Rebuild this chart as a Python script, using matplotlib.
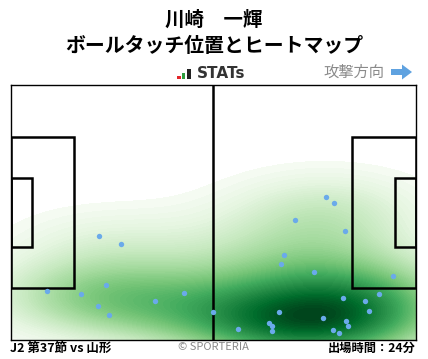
"""Ball touch positions and heatmap for one player (SPORTERIA style)."""

import matplotlib

matplotlib.use("Agg")

import matplotlib.pyplot as plt
import seaborn as sns
from matplotlib.patches import Polygon, Rectangle

plt.rcParams["font.family"] = ["Noto Sans CJK JP", "DejaVu Sans"]

PLAYER = "川崎　一輝"
SUBTITLE = "ボールタッチ位置とヒートマップ"
MATCH_LABEL = "J2 第37節 vs 山形"
MINUTES_LABEL = "出場時間：24分"
CREDIT = "© SPORTERIA"
DIRECTION_LABEL = "攻撃方向"

PITCH_LENGTH = 105.0
PITCH_WIDTH = 68.0

# touch positions in metres (x: own goal -> attacking goal, y: from bottom touchline)
touch_x = [
    22.96, 28.65, 9.52, 18.31, 24.77, 22.70, 25.55, 37.44, 44.94, 52.44,
    81.66, 83.73, 73.65, 86.58, 70.80, 70.03, 78.56, 98.99, 95.37, 86.06,
    91.75, 92.78, 69.51, 80.89, 86.76, 87.35, 66.85, 67.70, 67.62, 59.01,
    83.48, 85.03,
]
touch_y = [
    27.60, 25.47, 12.96, 12.16, 14.56, 8.97, 6.58, 10.30, 12.43, 7.37,
    37.98, 36.39, 31.86, 28.93, 22.54, 20.15, 18.02, 16.96, 12.24, 11.10,
    10.30, 7.65, 7.37, 5.78, 5.14, 3.81, 4.44, 3.81, 2.40, 2.85,
    2.66, 1.78,
]

POINT_COLOR = "#6aaaea"
ARROW_COLOR = "#5fa2e0"


def draw_pitch(ax):
    lw = 1.8
    ax.plot([PITCH_LENGTH / 2, PITCH_LENGTH / 2], [0, PITCH_WIDTH], color="black", lw=lw, zorder=2)
    box_w, box_d = 40.32, 16.5
    goal_w, goal_d = 18.32, 5.5
    cy = PITCH_WIDTH / 2
    for x0, d, w in [
        (0, box_d, box_w),
        (PITCH_LENGTH - box_d, box_d, box_w),
        (0, goal_d, goal_w),
        (PITCH_LENGTH - goal_d, goal_d, goal_w),
    ]:
        ax.add_patch(Rectangle((x0, cy - w / 2), d, w, fill=False, ec="black", lw=lw, zorder=2))
    for spine in ax.spines.values():
        spine.set_linewidth(1.0)
        spine.set_color("black")
        spine.set_zorder(4)


def px_rect(fig, x0, x1, y_top, y_bottom, color):
    # rectangle given in figure pixels (y measured from the top)
    fig.patches.append(
        Rectangle((x0 / 428, 1 - y_bottom / 359), (x1 - x0) / 428, (y_bottom - y_top) / 359,
                  transform=fig.transFigure, color=color, lw=0)
    )


def main():
    fig = plt.figure(figsize=(4.28, 3.59), dpi=100)
    ax = fig.add_axes([10.5 / 428, 19 / 359, 405.5 / 428, 255.5 / 359])

    sns.kdeplot(
        x=touch_x,
        y=touch_y,
        fill=True,
        cmap="Greens",
        levels=80,
        thresh=0.02,
        bw_adjust=1.3,
        clip=((0, PITCH_LENGTH), (0, PITCH_WIDTH)),
        ax=ax,
        zorder=0,
    )
    draw_pitch(ax)
    ax.scatter(touch_x, touch_y, s=15, color=POINT_COLOR, lw=0, zorder=3)

    ax.set_xlim(0, PITCH_LENGTH)
    ax.set_ylim(0, PITCH_WIDTH)
    ax.set_xticks([])
    ax.set_yticks([])
    ax.set_xlabel("")
    ax.set_ylabel("")

    # titles
    fig.text(0.5, 1 - 20.5 / 359, PLAYER, ha="center", va="center", fontsize=14, fontweight="bold")
    fig.text(0.5, 1 - 46 / 359, SUBTITLE, ha="center", va="center", fontsize=14.3, fontweight="bold")

    # STATs logo
    px_rect(fig, 177, 180.5, 75.5, 79, "#e3262a")
    px_rect(fig, 181.5, 185, 73, 79, "#2e9e3e")
    px_rect(fig, 186.5, 190.5, 68.5, 79, "#222222")
    fig.text(196.5 / 428, 1 - 74 / 359, "STATs", ha="left", va="center",
             fontsize=11, fontweight="bold", color="#333333", family="DejaVu Sans")

    # attack direction
    fig.text(384 / 428, 1 - 72 / 359, DIRECTION_LABEL, ha="right", va="center",
             fontsize=11, color="#8a8a8a")
    arrow = [(391, 69), (402, 69), (402, 64.5), (412, 72), (402, 79.5), (402, 75), (391, 75)]
    fig.patches.append(
        Polygon([(x / 428, 1 - y / 359) for x, y in arrow], closed=True,
                transform=fig.transFigure, color=ARROW_COLOR, lw=0)
    )

    # footer
    fig.text(10 / 428, 1 - 348.5 / 359, MATCH_LABEL, ha="left", va="center",
             fontsize=9, fontweight="bold")
    fig.text(213 / 428, 1 - 347.5 / 359, CREDIT, ha="center", va="center",
             fontsize=8, color="#8a8a8a")
    fig.text(416 / 428, 1 - 348.5 / 359, MINUTES_LABEL, ha="right", va="center",
             fontsize=8.8, fontweight="bold")

    fig.savefig("out.png", dpi=100)
    plt.close(fig)


if __name__ == "__main__":
    main()
